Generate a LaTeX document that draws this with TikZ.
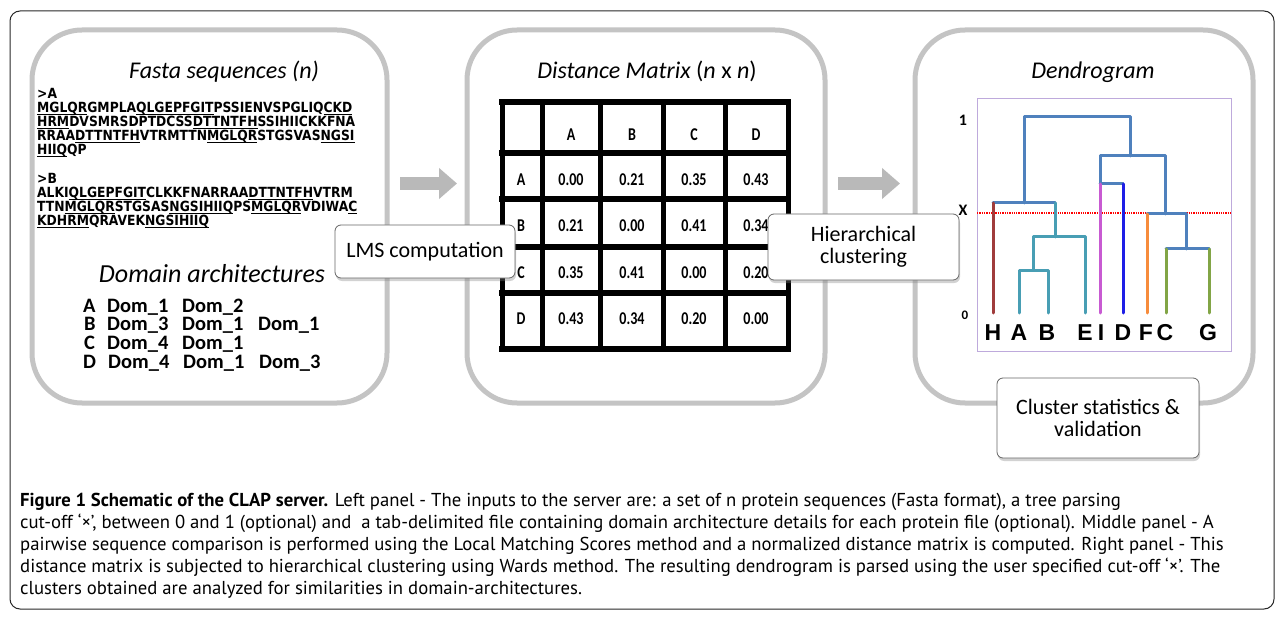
\documentclass[tikz,border=0pt]{standalone}
\usepackage{fontspec}
\setmainfont{Carlito}
\newfontfamily\calib{Carlito}
\newfontfamily\seqf[FakeStretch=0.88]{DejaVu Sans}
\newfontfamily\cellf[FakeStretch=0.78]{Carlito}
\newfontfamily\arialf{Liberation Sans}
\newfontfamily\capf{PT Sans}
\usetikzlibrary{shadows,arrows.meta}
\definecolor{panelgray}{RGB}{196,196,196}
\definecolor{arrowgray}{RGB}{185,185,185}
\definecolor{framecol}{RGB}{40,40,40}
\definecolor{steel}{RGB}{79,129,189}
\definecolor{tealc}{RGB}{72,158,180}
\definecolor{hred}{RGB}{160,60,60}
\definecolor{magc}{RGB}{200,90,210}
\definecolor{dblue}{RGB}{30,30,230}
\definecolor{orangec}{RGB}{247,140,60}
\definecolor{greenc}{RGB}{130,165,70}
\definecolor{purplebox}{RGB}{190,170,220}
\newcommand\seqU[1]{\setbox0=\hbox{#1}\rlap{\rule[-2.2pt]{\wd0}{0.9pt}}\box0}
\tikzset{
  panel/.style={draw=panelgray, line width=5pt, rounded corners=50pt, inner sep=0pt, outer sep=0pt},
  callout/.style={draw=gray!80!black, fill=white, rounded corners=6pt, line width=0.8pt, inner sep=0pt,
    drop shadow={shadow xshift=1pt, shadow yshift=-3pt, opacity=0.35},
    font=\calib\fontsize{22}{22}\selectfont, align=center},
  paneltitle/.style={anchor=base, inner sep=0pt, font=\calib\itshape\fontsize{24}{24}\selectfont},
  seqline/.style={anchor=base west, inner sep=0pt, font=\seqf\bfseries\fontsize{14}{14}\selectfont},
  domline/.style={anchor=base west, inner sep=0pt, font=\calib\bfseries\fontsize{20.5}{20.5}\selectfont},
  celltext/.style={inner sep=0pt, font=\cellf\bfseries\fontsize{18}{18}\selectfont},
  gridline/.style={line width=5pt, line cap=rect},
  blockarrow/.style={arrowgray, line width=13pt, -{Triangle[length=18pt,width=30pt]}},
  treeline/.style={line width=3pt, line cap=round, line join=round},
  leaflabel/.style={inner sep=0pt, font=\arialf\bfseries\fontsize{23}{23}\selectfont},
  axislabel/.style={inner sep=0pt, font=\calib\bfseries\fontsize{16}{16}\selectfont},
  captext/.style={anchor=base west, inner sep=0pt, font=\capf\fontsize{18.7}{18.7}\selectfont}
}
\begin{document}
\begin{tikzpicture}[x=1pt,y=-1pt]
\useasboundingbox (0,0) rectangle (1284,620);
\fill[white] (0,0) rectangle (1284,620);
\draw[framecol, line width=1pt, rounded corners=10pt] (10,11) rectangle (1274,609);

% panels
\node[panel, minimum width=355pt, minimum height=373pt] (lp) at (209.5,216.5) {};
\node[panel, minimum width=358pt, minimum height=373pt] (mp) at (646,216.5) {};
\node[panel, minimum width=338pt, minimum height=373pt] (rp) at (1084,216.5) {};

% arrows between panels
\coordinate (a1s) at (400,183.5);
\coordinate (a1e) at (457,183.5);
\coordinate (a2s) at (838,183.5);
\coordinate (a2e) at (900,183.5);
\draw[blockarrow] (a1s) -- (a1e);
\draw[blockarrow] (a2s) -- (a2e);

% left panel
\node[paneltitle] (t1) at (224,79) {Fasta sequences (n)};
\node[seqline] (sa0) at (37,99) {>A};
\node[seqline] (sa1) at (37,113) {\seqU{MGLQR}GMPLA\seqU{QLGEPFGIT}PSSIENVSPGLIQ\seqU{CKD}};
\node[seqline] (sa2) at (37,127) {\seqU{HRM}DVSMRSDPTDCSS\seqU{DTTNTFH}SSIHIICKKFNA};
\node[seqline] (sa3) at (37,141) {RRAA\seqU{DTTNTFH}VTRMTTN\seqU{MGLQR}STGSVAS\seqU{NGSI}};
\node[seqline] (sa4) at (37,155) {\seqU{HIIQ}QP};
\node[seqline] (sb0) at (37,184) {>B};
\node[seqline] (sb1) at (37,198) {ALKI\seqU{QLGEPFGIT}CLKKFNARRAA\seqU{DTTNTFH}VTRM};
\node[seqline] (sb2) at (37,212) {TTN\seqU{MGLQR}STGSAS\seqU{NGSIHIIQ}PS\seqU{MGLQR}VDIWA\seqU{C}};
\node[seqline] (sb3) at (37,226) {\seqU{KDHRM}QRAVEK\seqU{NGSIHIIQ}};

\node[paneltitle, font=\calib\itshape\fontsize{26}{26}\selectfont] (t2) at (212,283) {Domain architectures};
\node[domline] (dA) at (83,312) {A};
\node[domline] (dA1) at (107,312) {Dom\_1};
\node[domline] (dA2) at (182,312) {Dom\_2};
\node[domline] (dB) at (84,330) {B};
\node[domline] (dB1) at (107,330) {Dom\_3};
\node[domline] (dB2) at (182,330) {Dom\_1};
\node[domline] (dB3) at (258,330) {Dom\_1};
\node[domline] (dC) at (84,349) {C};
\node[domline] (dC1) at (107,349) {Dom\_4};
\node[domline] (dC2) at (182,349) {Dom\_1};
\node[domline] (dD) at (83,368) {D};
\node[domline] (dD1) at (108,368) {Dom\_4};
\node[domline] (dD2) at (183,368) {Dom\_1};
\node[domline] (dD3) at (259,368) {Dom\_3};

% middle panel
\node[paneltitle] (t3) at (647,79) {Distance Matrix {\upshape(}n {\upshape x} n{\upshape)}};
\fill[white] (502,102) rectangle (788,349);
\foreach \yy in {102,153,199,247,293,349} \draw[gridline, line width=6pt] (502,\yy) -- (788,\yy);
\foreach \xx in {502,542,600,663,725,788} \draw[gridline] (\xx,102) -- (\xx,349);
\foreach \nm/\xx in {A/571,B/632,C/694,D/756} \node[celltext] (h\nm) at (\xx,135) {\nm};
\foreach \nm/\yy in {A/180,B/226,C/273,D/319} \node[celltext] (r\nm) at (521,\yy) {\nm};
\foreach \v/\xx/\yy/\nm in {
  0.00/571/180/AA, 0.21/632/180/AB, 0.35/694/180/AC, 0.43/756/180/AD,
  0.21/571/226/BA, 0.00/632/226/BB, 0.41/694/226/BC, 0.34/756/226/BD,
  0.35/571/273/CA, 0.41/632/273/CB, 0.00/694/273/CC, 0.20/756/273/CD,
  0.43/571/319/DA, 0.34/632/319/DB, 0.20/694/319/DC, 0.00/756/319/DD}
  \node[celltext] (c\nm) at (\xx,\yy) {\v};

\node[callout, minimum width=180pt, minimum height=53pt] (lms) at (425,251.5) {LMS computation};
\node[callout, minimum width=191pt, minimum height=66pt] (hc) at (863.5,247) {Hierarchical\\clustering};

% right panel
\node[paneltitle] (t4) at (1093,79) {Dendrogram};
\draw[purplebox, line width=0.8pt] (977,98) rectangle (1231,351);
\node[axislabel] (y1) at (963,120) {1};
\node[axislabel] (yx) at (963,210) {X};
\node[axislabel, font=\calib\bfseries\fontsize{13}{13}\selectfont] (y0) at (965,315) {0};
\draw[red, densely dotted, line width=1.3pt] (977,213) -- (1231,213);

\draw[treeline, steel] (1024,203) -- (1024,117) -- (1130,117) -- (1130,156);
\draw[treeline, steel] (993,203) -- (1055,203);
\draw[treeline, steel] (1100,184) -- (1100,156) -- (1165,156) -- (1165,214);
\draw[treeline, steel] (1100,184) -- (1123,184);
\draw[treeline, steel] (1147,214) -- (1186,214) -- (1186,249);
\draw[treeline, steel] (1166,249) -- (1209,249);
\draw[treeline, tealc] (1055,203) -- (1055,237);
\draw[treeline, tealc] (1033,270) -- (1033,237) -- (1085,237) -- (1085,313);
\draw[treeline, tealc] (1019,313) -- (1019,270) -- (1048,270) -- (1048,313);
\draw[treeline, hred] (993,203) -- (993,313);
\draw[treeline, magc] (1100,184) -- (1100,313);
\draw[treeline, dblue] (1123,184) -- (1123,313);
\draw[treeline, orangec] (1147,214) -- (1147,313);
\draw[treeline, greenc] (1166,249) -- (1166,313);
\draw[treeline, greenc] (1209,249) -- (1209,313);

\foreach \nm/\xx in {H/993,A/1019,B/1047,E/1085,I/1101,D/1123,F/1146,C/1165,G/1208}
  \node[leaflabel] (l\nm) at (\xx,333) {\nm};

\node[callout, minimum width=202pt, minimum height=80pt] (cs) at (1098,418) {Cluster statistics \&\\validation};

% caption
\node[captext] (cap1) at (20,506) {\textbf{Figure 1 Schematic of the CLAP server.} Left panel - The inputs to the server are: a set of n protein sequences (Fasta format), a tree parsing};
\node[captext] (cap2) at (20,528) {cut-off ‘×’, between 0 and 1 (optional) and\ \ a tab-delimited file containing domain architecture details for each protein file (optional). Middle panel - A};
\node[captext] (cap3) at (20,550) {pairwise sequence comparison is performed using the Local Matching Scores method and a normalized distance matrix is computed. Right panel - This};
\node[captext] (cap4) at (20,572) {distance matrix is subjected to hierarchical clustering using Wards method. The resulting dendrogram is parsed using the user specified cut-off ‘×’. The};
\node[captext] (cap5) at (20,594) {clusters obtained are analyzed for similarities in domain-architectures.};
\end{tikzpicture}
\end{document}
